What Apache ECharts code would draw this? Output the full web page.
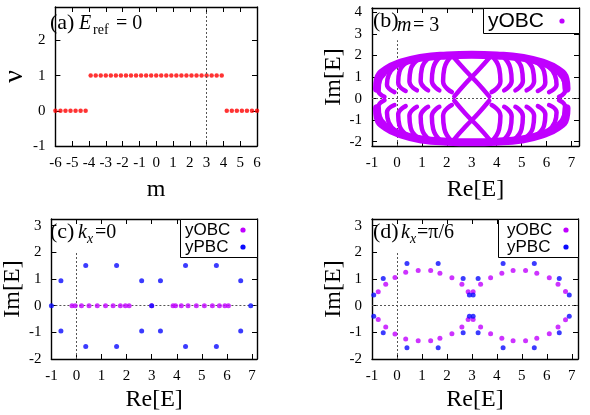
<!DOCTYPE html>
<html><head><meta charset="utf-8">
<script src="https://cdn.jsdelivr.net/npm/echarts@6/dist/echarts.min.js"></script>
<style>html,body{margin:0;padding:0;background:#fff}#c{width:590px;height:415px}</style>
</head><body><div id="c"></div><script>
const purple = '#c000ff', blue = '#0a0aff', red = '#ff0000';
const serif = 'Liberation Serif', sans = 'Liberation Sans';

// ---- panel (a): winding number vs m ----
const aM = [-6,-5.7,-5.4,-5.1,-4.8,-4.5,-4.2,-3.9,-3.6,-3.3,-3,-2.7,-2.4,-2.1,-1.8,-1.5,-1.2,-0.9,-0.6,-0.3,0,0.3,0.6,0.9,1.2,1.5,1.8,2.1,2.4,2.7,3,3.3,3.6,3.9,4.2,4.5,4.8,5.1,5.4,5.7,6];
const aNu = [0,0,0,0,0,0,0,1,1,1,1,1,1,1,1,1,1,1,1,1,1,1,1,1,1,1,1,1,1,1,1,1,1,1,0,0,0,0,0,0,0];
const aXTicks = [-6,-5,-4,-3,-2,-1,0,1,2,3,4,5,6];
const aYTicks = [-1,0,1,2];

// ---- panel (b): yOBC spectrum for m=3, traced arcs (Re, Im) ----
const bBandUp = [[-0.8,0.45],[-0.76,0.9],[-0.45,1.33],[0.2,1.68],[1.0,1.9],[2.0,2.0],[3.0,2.03],[4.0,2.0],[5.0,1.9],[5.8,1.68],[6.45,1.33],[6.76,0.9],[6.8,0.45]];
const bBandDn = [[-0.8,-0.45],[-0.76,-0.9],[-0.45,-1.33],[0.2,-1.68],[1.0,-1.9],[2.0,-2.0],[3.0,-2.03],[4.0,-2.0],[5.0,-1.9],[5.8,-1.68],[6.45,-1.33],[6.76,-0.9],[6.8,-0.45]];
const bArcsUp = [
  [[-0.5,0.08],[-0.75,0.4],[-0.7,0.8],[-0.5,1.15]],
  [[-0.1,0.3],[-0.4,0.65],[-0.33,1.1],[-0.05,1.5]],
  [[0.35,0.35],[0.05,0.75],[0.1,1.25],[0.4,1.68]],
  [[0.8,0.38],[0.5,0.8],[0.55,1.35],[0.85,1.82]],
  [[1.25,0.38],[0.95,0.82],[1.0,1.4],[1.3,1.9]],
  [[1.7,0.38],[1.4,0.82],[1.45,1.4],[1.75,1.95]],
  [[2.2,0.3],[1.85,0.8],[1.9,1.4],[2.2,1.98]],
  [[6.5,0.08],[6.75,0.4],[6.7,0.8],[6.5,1.15]],
  [[6.1,0.3],[6.4,0.65],[6.33,1.1],[6.05,1.5]],
  [[5.65,0.35],[5.95,0.75],[5.9,1.25],[5.6,1.68]],
  [[5.2,0.38],[5.5,0.8],[5.45,1.35],[5.15,1.82]],
  [[4.75,0.38],[5.05,0.82],[5.0,1.4],[4.7,1.9]],
  [[4.3,0.38],[4.6,0.82],[4.55,1.4],[4.25,1.95]],
  [[3.8,0.3],[4.15,0.8],[4.1,1.4],[3.8,1.98]],
  [[2.3,0.1],[2.75,0.7],[3.25,1.3],[3.75,1.95]],
  [[3.7,0.1],[3.25,0.7],[2.75,1.3],[2.25,1.95]]
];
const bArcsDn = [
  [[-0.5,-0.08],[-0.75,-0.4],[-0.7,-0.8],[-0.5,-1.15]],
  [[-0.1,-0.3],[-0.4,-0.65],[-0.33,-1.1],[-0.05,-1.5]],
  [[0.35,-0.35],[0.05,-0.75],[0.1,-1.25],[0.4,-1.68]],
  [[0.8,-0.38],[0.5,-0.8],[0.55,-1.35],[0.85,-1.82]],
  [[1.25,-0.38],[0.95,-0.82],[1.0,-1.4],[1.3,-1.9]],
  [[1.7,-0.38],[1.4,-0.82],[1.45,-1.4],[1.75,-1.95]],
  [[2.2,-0.3],[1.85,-0.8],[1.9,-1.4],[2.2,-1.98]],
  [[6.5,-0.08],[6.75,-0.4],[6.7,-0.8],[6.5,-1.15]],
  [[6.1,-0.3],[6.4,-0.65],[6.33,-1.1],[6.05,-1.5]],
  [[5.65,-0.35],[5.95,-0.75],[5.9,-1.25],[5.6,-1.68]],
  [[5.2,-0.38],[5.5,-0.8],[5.45,-1.35],[5.15,-1.82]],
  [[4.75,-0.38],[5.05,-0.82],[5.0,-1.4],[4.7,-1.9]],
  [[4.3,-0.38],[4.6,-0.82],[4.55,-1.4],[4.25,-1.95]],
  [[3.8,-0.3],[4.15,-0.8],[4.1,-1.4],[3.8,-1.98]],
  [[2.3,-0.1],[2.75,-0.7],[3.25,-1.3],[3.75,-1.95]],
  [[3.7,-0.1],[3.25,-0.7],[2.75,-1.3],[2.25,-1.95]]
];
const reTicks = [-1,0,1,2,3,4,5,6,7];
const bImTicks = [-2,-1,0,1,2,3,4];

// ---- panel (c): kx = 0 ----
const cObcRe = [-0.18,-0.05,0.2,0.5,0.83,1.16,1.46,1.75,1.95,2.1,3.0,3.85,3.95,4.18,4.45,4.78,5.1,5.42,5.7,5.92,6.06];
const cObcIm = [0,0,0,0,0,0,0,0,0,0,0,0,0,0,0,0,0,0,0,0,0];
const cPbcRe = [-1.0,-0.62,-0.62,0.37,0.37,1.6,1.6,2.6,2.6,3.0,3.35,3.35,4.35,4.35,5.58,5.58,6.55,6.55,6.95];
const cPbcIm = [0,0.93,-0.95,1.51,-1.53,1.51,-1.53,0.93,-0.95,0,0.93,-0.95,1.51,-1.53,1.51,-1.53,0.93,-0.95,0];
const cdImTicks = [-2,-1,0,1,2,3];

// ---- panel (d): kx = pi/6 ----
const dObcRe = [-0.75,-0.45,-0.08,0.35,0.85,1.35,1.72,2.2,2.6,2.85,3.05,3.35,3.75,4.2,4.65,5.15,5.6,6.1,6.45,6.75,
                -0.75,-0.45,-0.08,0.35,0.85,1.35,1.72,2.2,2.6,2.85,3.05,3.35,3.75,4.2,4.65,5.15,5.6,6.1,6.45,6.75];
const dObcIm = [0.52,0.8,1.06,1.25,1.32,1.32,1.22,1.05,0.8,0.52,0.52,0.8,1.05,1.22,1.32,1.32,1.22,1.05,0.8,0.53,
                -0.52,-0.8,-1.06,-1.25,-1.32,-1.32,-1.22,-1.05,-0.8,-0.52,-0.52,-0.8,-1.05,-1.22,-1.32,-1.32,-1.22,-1.05,-0.8,-0.53];
const dPbcRe = [-0.93,-0.55,0.4,1.65,2.65,2.9,3.05,3.25,4.25,5.5,6.5,6.9,
                -0.93,-0.55,0.4,1.65,2.65,2.9,3.05,3.25,4.25,5.5,6.5,6.9];
const dPbcIm = [0.4,1.02,1.58,1.58,1.02,0.4,0.4,1.02,1.58,1.58,1.02,0.4,
                -0.4,-1.02,-1.58,-1.58,-1.02,-0.4,-0.4,-1.02,-1.58,-1.58,-1.02,-0.4];

function zip(xs, ys){ return xs.map((x,i)=>[x, ys[i]]); }

function axisPair(dim, gi, min, max, ticks, name, nameGap, nameSize){
  const mk = (pos, main) => {
    const o = {gridIndex: gi, type: 'value', min: min, max: max, position: pos,
      splitLine: {show: false},
      axisLine: {show: true, onZero: false, lineStyle: {color: '#000', width: 1.4}},
      axisTick: {show: true, inside: true, length: 5, customValues: ticks.slice(), lineStyle: {color: '#000', width: 1}},
      axisLabel: main ? {show: true, customValues: ticks.slice(), margin: 10, fontFamily: serif, fontSize: 15, color: '#000'} : {show: false}
    };
    if (main) { o.name = name; o.nameLocation = 'middle'; o.nameGap = nameGap;
      o.nameTextStyle = {fontFamily: serif, fontSize: nameSize || 24, color: '#000'}; }
    return o;
  };
  return dim === 'x' ? [mk('bottom', true), mk('top', false)] : [mk('left', true), mk('right', false)];
}

const grids = [
  {left: 50, top: 7, width: 207, height: 139},
  {left: 372, top: 8, width: 207, height: 138},
  {left: 49, top: 219, width: 208, height: 140},
  {left: 372, top: 219, width: 206, height: 140}
];
const xAxes = [].concat(
  axisPair('x', 0, -6, 6, aXTicks, 'm', 32),
  axisPair('x', 1, -1, 7.3, reTicks, 'Re[E]', 32),
  axisPair('x', 2, -1, 7.2, reTicks, 'Re[E]', 29),
  axisPair('x', 3, -1, 7.25, reTicks, 'Re[E]', 29)
);
const yAxes = [].concat(
  axisPair('y', 0, -1, 2.95, aYTicks, 'ν', 18, 28),
  axisPair('y', 1, -2.2, 4.2, bImTicks, 'Im[E]', 18),
  axisPair('y', 2, -2, 3.25, cdImTicks, 'Im[E]', 19),
  axisPair('y', 3, -2, 3.25, cdImTicks, 'Im[E]', 20)
);

const dotted = {color: '#555', width: 1, type: [2, 2]};
function zeroLines(xmin, xmax, ymin, vtop){
  return {silent: true, symbol: 'none', label: {show: false}, lineStyle: dotted, z: 1,
    data: [
      [{coord: [xmin, 0]}, {coord: [xmax, 0]}],
      [{coord: [0, ymin]}, {coord: [0, vtop]}]
    ]};
}

const series = [];
// (a)
series.push({type: 'scatter', xAxisIndex: 0, yAxisIndex: 0, data: zip(aM, aNu), symbolSize: 4.5,
  itemStyle: {color: red}, silent: true,
  markLine: {silent: true, symbol: 'none', label: {show: false}, lineStyle: dotted,
    data: [[{coord: [3, -1]}, {coord: [3, 2.95]}]]}});
// (b)
const bLineStyle = (w) => ({color: purple, width: w, cap: 'round', join: 'round'});
series.push({name: 'yOBC', type: 'line', xAxisIndex: 2, yAxisIndex: 2, data: bBandUp, smooth: 0.5, showSymbol: false,
  lineStyle: bLineStyle(8), itemStyle: {color: purple}, silent: true,
  markLine: zeroLines(-1, 7.3, -2.2, 2.7)});
series.push({name: 'yOBC', type: 'line', xAxisIndex: 2, yAxisIndex: 2, data: bBandDn, smooth: 0.5, showSymbol: false,
  lineStyle: bLineStyle(8), itemStyle: {color: purple}, silent: true});
bArcsUp.concat(bArcsDn).forEach(function(arc){
  series.push({name: 'yOBC', type: 'line', xAxisIndex: 2, yAxisIndex: 2, data: arc, smooth: 0.5, showSymbol: false,
    lineStyle: bLineStyle(4.5), itemStyle: {color: purple}, silent: true});
});
// (c)
series.push({name: 'yOBC', type: 'scatter', xAxisIndex: 4, yAxisIndex: 4, data: zip(cObcRe, cObcIm), symbolSize: 5,
  itemStyle: {color: purple}, silent: true, z: 3, markLine: zeroLines(-1, 7.2, -2, 2.0)});
series.push({name: 'yPBC', type: 'scatter', xAxisIndex: 4, yAxisIndex: 4, data: zip(cPbcRe, cPbcIm), symbolSize: 5,
  itemStyle: {color: blue}, silent: true, z: 4});
// (d)
series.push({name: 'yOBC', type: 'scatter', xAxisIndex: 6, yAxisIndex: 6, data: zip(dObcRe, dObcIm), symbolSize: 5,
  itemStyle: {color: purple}, silent: true, z: 3, markLine: zeroLines(-1, 7.25, -2, 2.0)});
series.push({name: 'yPBC', type: 'scatter', xAxisIndex: 6, yAxisIndex: 6, data: zip(dPbcRe, dPbcIm), symbolSize: 5,
  itemStyle: {color: blue}, silent: true, z: 4});

// gnuplot-style key boxes (text left, sample dot right)
function keyBox(x, y, w, h, rows, fs, tx, dx){
  const els = [{type: 'rect', shape: {x: x + 0.5, y: y + 0.5, width: w, height: h}, z: 90,
    style: {fill: '#fff', stroke: '#000', lineWidth: 1}}];
  rows.forEach(function(r){
    els.push({type: 'text', x: tx, y: r.y, z: 91,
      style: {text: r.name, font: fs + 'px "Liberation Sans"', fill: '#000', textVerticalAlign: 'middle'}});
    els.push({type: 'circle', shape: {cx: dx, cy: r.y, r: 2.6}, z: 91, style: {fill: r.color}});
  });
  return els;
}

const T = (text, x, y, size, italic) => ({type: 'text', x: x, y: y, z: 100,
  style: {text: text, font: (italic ? 'italic ' : '') + size + 'px "Liberation Serif"', fill: '#000', textVerticalAlign: 'middle'}});

const option = {
  animation: false,
  backgroundColor: '#fff',
  grid: grids,
  xAxis: xAxes,
  yAxis: yAxes,
  series: series,
  graphic: [].concat(
    keyBox(483, 8, 96, 25, [{name: 'yOBC', y: 21, color: purple}], 21, 488, 562),
    keyBox(180, 219, 77, 38, [{name: 'yOBC', y: 230, color: purple}, {name: 'yPBC', y: 247, color: blue}], 17, 185, 243),
    keyBox(498, 219, 80, 38, [{name: 'yOBC', y: 230, color: purple}, {name: 'yPBC', y: 247, color: blue}], 17, 507, 566),
    [
    T('(a)', 50, 23, 22, false), T('E', 79, 24, 20, true), T('ref', 93, 30, 14, false), T('= 0', 116, 24, 20, false),
    T('(b)', 373, 21, 22, false), T('m', 397, 26, 20, true), T('= 3', 413, 26, 20, false),
    T('(c)', 50, 232, 22, false), T('k', 78, 233, 20, true), T('x', 87, 239, 14, true), T('=0', 95, 233, 20, false),
    T('(d)', 373, 232, 22, false), T('k', 401, 233, 20, true), T('x', 410, 239, 14, true), T('=π/6', 417, 233, 20, false)
  ])
};
const chart = echarts.init(document.getElementById('c'), null, {renderer: 'canvas'});
chart.setOption(option);
</script></body></html>
